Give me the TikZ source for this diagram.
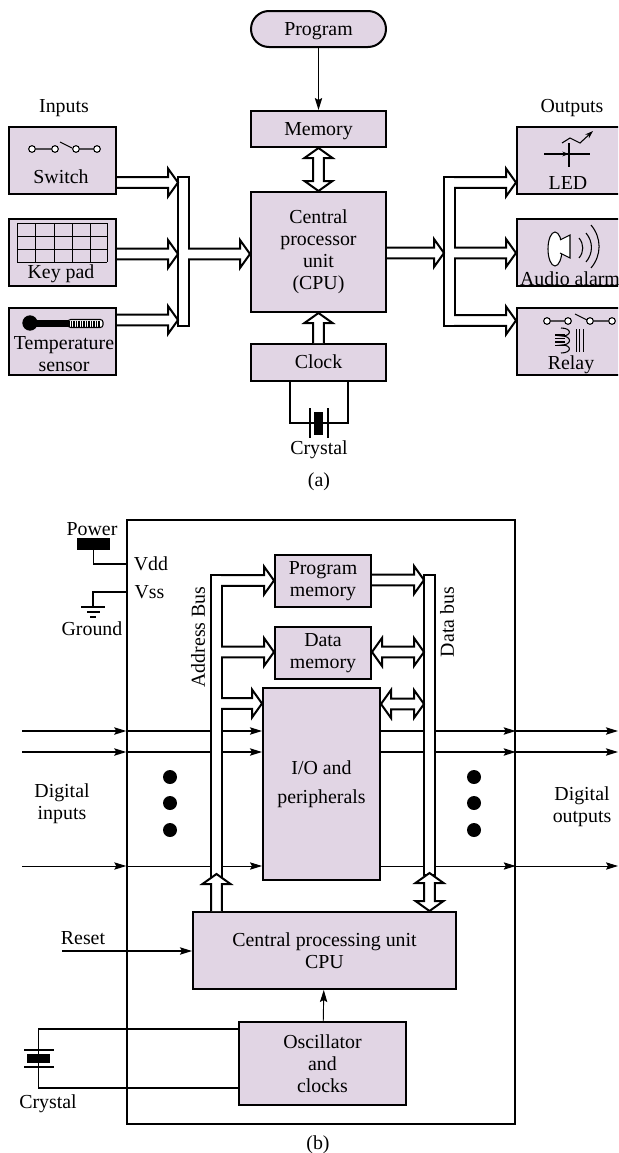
\documentclass[tikz,border=0pt]{standalone}
\usepackage{fontspec}
\setmainfont{Liberation Serif}
\usepackage{xcolor}
\usetikzlibrary{arrows.meta,positioning,calc}
\definecolor{boxfill}{HTML}{E1D5E4}
\tikzset{
    hollow/.style={draw, fill=white, line width=1.5pt, to path={
        let \p1=(\tikztostart), \p2=(\tikztotarget),
            \n1={atan2(\y2-\y1,\x2-\x1)}, \n2={veclen(\x2-\x1,\y2-\y1)} in
        {[shift={(\p1)}, rotate=\n1]
        (0pt,4.1pt) -- (\n2-7.5pt,4.1pt) -- (\n2-7.5pt,10.5pt) -- (\n2,0pt)
        -- (\n2-7.5pt,-10.5pt) -- (\n2-7.5pt,-4.1pt) -- (0pt,-4.1pt)}}},
    hollowboth/.style={draw, fill=white, line width=1.5pt, to path={
        let \p1=(\tikztostart), \p2=(\tikztotarget),
            \n1={atan2(\y2-\y1,\x2-\x1)}, \n2={veclen(\x2-\x1,\y2-\y1)} in
        {[shift={(\p1)}, rotate=\n1]
        (0pt,0pt) -- (7.5pt,10.5pt) -- (7.5pt,4.1pt) -- (\n2-7.5pt,4.1pt) -- (\n2-7.5pt,10.5pt)
        -- (\n2,0pt) -- (\n2-7.5pt,-10.5pt) -- (\n2-7.5pt,-4.1pt) -- (7.5pt,-4.1pt)
        -- (7.5pt,-10.5pt) -- cycle}}}
}
\begin{document}
\begin{tikzpicture}[
    x=0.75pt, y=-0.75pt,
    every node/.style={font=\fontsize{14.9}{16.5}\selectfont, inner sep=0pt, align=center},
    box/.style={draw, fill=boxfill, line width=1.5pt},
    colbox/.style={box, minimum width=101.25pt},
    oneline/.style={text height=11.5pt, text depth=2pt},
    sidebox/.style={box, minimum width=80.25pt, minimum height=50.25pt},
    membox/.style={box, minimum width=72pt, minimum height=39pt},
    bus/.style={draw, fill=white, line width=1.5pt, minimum width=8pt},
    wire/.style={line width=1.2pt},
    sig/.style={-{Stealth[length=9pt,width=5.5pt,inset=1.5pt]}, line width=1.1pt},
    thin sig/.style={sig, line width=0.7pt},
    term/.style={circle, draw, fill=white, line width=0.8pt, minimum size=5pt},
    plate/.style={fill=black},
    dot/.style={circle, fill=black, minimum size=10.5pt}
]
\path[use as bounding box, clip] (0,0) rectangle (618,1153);

\node[colbox, oneline, minimum height=27pt, rounded corners=13.5pt] (prog) at (318.5,29) {Program};
\node[colbox, oneline, minimum height=27pt, below=46.5pt of prog] (mem) {Memory};
\node[colbox, minimum height=90pt, below=32.25pt of mem] (acpu) {Central\\processor\\unit\\(CPU)};
\node[colbox, oneline, minimum height=27.75pt, below=22.5pt of acpu] (clock) {Clock};
\node[plate, minimum width=1.2pt, minimum height=22.5pt] (xa1) at (310,423) {};
\node[plate, minimum width=1.2pt, minimum height=22.5pt] (xa2) at (328,423) {};
\node[plate, minimum width=6.75pt, minimum height=17.25pt] (xa) at (318.5,423) {};
\node (xalab) at (319,450) {Crystal};
\node (alab) at (319,482) {(a)};
\coordinate (ca1) at (290,382);
\coordinate (ca2) at (348,382);
\draw[wire] (ca1) |- (xa1);
\draw[wire] (ca2) |- (xa2);
\draw[wire] (xa1) -- (xa2);
\draw[thin sig] (prog) -- (mem);
\draw[hollowboth] (mem.south) to (acpu.north);
\draw[hollow] (clock.north) to (acpu.south);

\node (inlab) at (64,108) {Inputs};
\node[sidebox, anchor=north west] (swbox) at (8,126) {};
\node[sidebox, below=17.25pt of swbox] (keybox) {};
\node[sidebox, below=15pt of keybox] (tempbox) {};
\node (swlab) at (61,177) {Switch};
\node (keylab) at (61,274) {Key pad};
\node (templab) at (64,354) {Temperature\\sensor};
\foreach \x [count=\i] in {32,55,76,97}
    \node[term] (s\i) at (\x,149) {};
\draw[line width=0.8pt] (s1) -- (s2) (s3) -- (s4) (60,142) -- (72,148);
\foreach \x in {17,35,54,72,90,107}
    \draw[line width=0.7pt] (\x,223) -- (\x,262);
\foreach \y in {223,236,249,262}
    \draw[line width=0.7pt] (17,\y) -- (107,\y);
\node[circle, fill=black, minimum size=11.5pt] (bulb) at (30,323) {};
\fill (30,320) rectangle (68,327);
\draw[fill=white, line width=0.8pt, rounded corners=2pt] (68,319.5) rectangle (103,327.5);
\foreach \x in {69,71.5,...,99}
    \draw[line width=0.9pt] (\x,320.5) -- (\x,326.5);

\node[bus, minimum height=111.75pt] (ibus) at (183.5,251.5) {};
\coordinate (i1) at (178,182.5);
\coordinate (i2) at (178,254);
\coordinate (i3) at (178,320);
\coordinate (iout) at (188.2,254);
\draw[hollow] (swbox.east |- i1) to (i1);
\draw[hollow] (keybox.east |- i2) to (i2);
\draw[hollow] (tempbox.east |- i3) to (i3);
\draw[hollow] (iout) to (acpu.west |- iout);

\node (outlab) at (572,108) {Outputs};
\node[sidebox, anchor=north west] (ledbox) at (516,126) {};
\node[sidebox, below=17.25pt of ledbox] (audbox) {};
\node[sidebox, below=15pt of audbox] (relbox) {};
\node (ledlab) at (568,183) {LED};
\node (audlab) at (570,279) {Audio alarm};
\node (rellab) at (571,365) {Relay};
\draw[line width=0.8pt] (569,143) -- (569,167);
\draw[line width=0.8pt] (544,154) -- (590,154);
\draw[-{Stealth[length=5pt,width=3.5pt]}, line width=0.8pt] (556,154) -- (569,154);
\draw[-{Stealth[length=6pt,width=4pt]}, line width=0.8pt] (562,143) -- (570,138) -- (580,143) -- (593,131);
\draw[fill=white, line width=0.8pt] (555,249) ellipse (7 and 17);
\draw[fill=white, line width=0.8pt] (560,240) -- (570,235) -- (570,258) -- (560,253);
\draw[line width=0.8pt] (579,238) to[bend left=40] (579,258);
\draw[line width=0.8pt] (586,233) to[bend left=40] (586,262);
\draw[line width=0.8pt] (591,225) to[bend left=40] (591,268);
\foreach \x [count=\i] in {547,568,590,612}
    \node[term] (r\i) at (\x,321) {};
\draw[line width=0.8pt] (r1) -- (r2) (r3) -- (r4) (575,314) -- (587,320);
\draw[line width=0.8pt] (561,328) .. controls (572,328) and (572,336) .. (562,336)
    .. controls (572,336) and (572,345) .. (562,345) .. controls (572,345) and (572,353) .. (561,353);
\foreach \y in {335,338.5,342,345.5}
    \draw[line width=1.2pt] (555,\y) -- (565,\y);
\foreach \x in {576,579.5,583}
    \draw[line width=0.6pt] (\x,329) -- (\x,352);

\node[bus, minimum height=111.75pt] (obus) at (449.5,251.5) {};
\coordinate (o0) at (444,253);
\coordinate (o1) at (454.2,182.5);
\coordinate (o2) at (454.2,253);
\coordinate (o3) at (454.2,320.5);
\draw[hollow] (acpu.east |- o0) to (o0);
\draw[hollow] (o1) to (ledbox.west |- o1);
\draw[hollow] (o2) to (audbox.west |- o2);
\draw[hollow] (o3) to (relbox.west |- o3);

\node[draw, line width=1.1pt, minimum width=291pt, minimum height=453pt] (chip) at (321,822) {};
\node[membox] (pmem) at (323,581) {Program\\memory};
\node[membox, below=13.5pt of pmem] (dmem) {Data\\memory};
\node[box, minimum width=87.75pt, minimum height=144pt] (io) at (321.5,784) {I/O and\\[5pt]peripherals};
\node[box, minimum width=197.25pt, minimum height=57.75pt] (pcu) at (324.5,950.5) {Central processing unit\\CPU};
\node[box, minimum width=125.25pt, minimum height=62.25pt] (osc) at (322.5,1063.5) {Oscillator\\and\\clocks};

\node (pwrlab) at (92,529) {Power};
\node[plate, minimum width=24.75pt, minimum height=9pt] (pwr) at (93.5,544) {};
\node (vdd) at (151,564) {Vdd};
\node (vss) at (149.5,592) {Vss};
\node (gndlab) at (92,629) {Ground};
\coordinate (gnd) at (93,607);
\draw[wire] (pwr.south) |- (chip.west |- vdd);
\draw[wire] (chip.west |- vss) -| (gnd);
\draw[wire] (81,607) -- (105,607);
\draw[wire] (87,612) -- (100,612);
\draw[wire] (90,617) -- (96,617);

\coordinate (in1) at (22,731);
\coordinate (in2) at (22,752);
\coordinate (in3) at (22,866);
\coordinate (out1) at (618,731);
\coordinate (out2) at (618,752);
\coordinate (out3) at (618,866);
\foreach \n/\s in {1/sig,2/sig,3/thin sig} {
    \draw[\s] (in\n) -- (chip.west |- in\n);
    \draw[\s] (chip.west |- in\n) -- (io.west |- in\n);
    \draw[\s] (io.east |- in\n) -- (chip.east |- in\n);
    \draw[\s] (chip.east |- in\n) -- (out\n);
}
\foreach \y [count=\i] in {777,803,830} {
    \node[dot] (dl\i) at (170,\y) {};
    \node[dot] (dr\i) at (474,\y) {};
}
\node (dilab) at (62,804) {Digital\\inputs};
\node (dolab) at (582,807) {Digital\\outputs};
\node (rstlab) at (83,938) {Reset};
\coordinate (rst) at (62,951);
\draw[sig] (rst) -- (pcu.west |- rst);
\draw[thin sig] (osc) -- (pcu);

\node[bus, minimum height=231.75pt] (abus) at (216.5,729.5) {};
\node[rotate=90] (ablab) at (198,637) {Address Bus};
\coordinate (a1) at (221.2,580.5);
\coordinate (a2) at (221.2,652);
\coordinate (a3) at (221.2,703.5);
\draw[hollow] (a1) to (pmem.west |- a1);
\draw[hollow] (a2) to (dmem.west |- a2);
\draw[hollow] (a3) to (io.west |- a3);
\coordinate (a0) at (216.5,874);
\draw[hollow] (pcu.north -| a0) to (a0);

\node[bus, minimum height=225pt] (dbus) at (429.5,725) {};
\node[rotate=90] (dblab) at (447,622) {Data bus};
\coordinate (d1) at (424,580);
\coordinate (d2) at (424,652);
\coordinate (d3) at (424,704);
\draw[hollow] (pmem.east |- d1) to (d1);
\draw[hollowboth] (dmem.east |- d2) to (d2);
\draw[hollowboth] (io.east |- d3) to (d3);
\coordinate (d0) at (429.5,873);
\draw[hollowboth] (d0) to (pcu.north -| d0);

\node[plate, minimum width=22.5pt, minimum height=1.2pt] (xb1) at (38.5,1050) {};
\node[plate, minimum width=22.5pt, minimum height=1.2pt] (xb2) at (38.5,1067) {};
\node[plate, minimum width=17.25pt, minimum height=6.75pt] (xb) at (38.5,1058.5) {};
\coordinate (xt) at (38.5,1029);
\coordinate (xu) at (38.5,1088);
\draw[wire] (osc.west |- xt) -- (xt) -- (xb1);
\draw[wire] (xb1) -- (xb2);
\draw[wire] (osc.west |- xu) -- (xu) -- (xb2);
\node (xblab) at (48,1104) {Crystal};
\node (blab) at (318,1145) {(b)};
\end{tikzpicture}
\end{document}
